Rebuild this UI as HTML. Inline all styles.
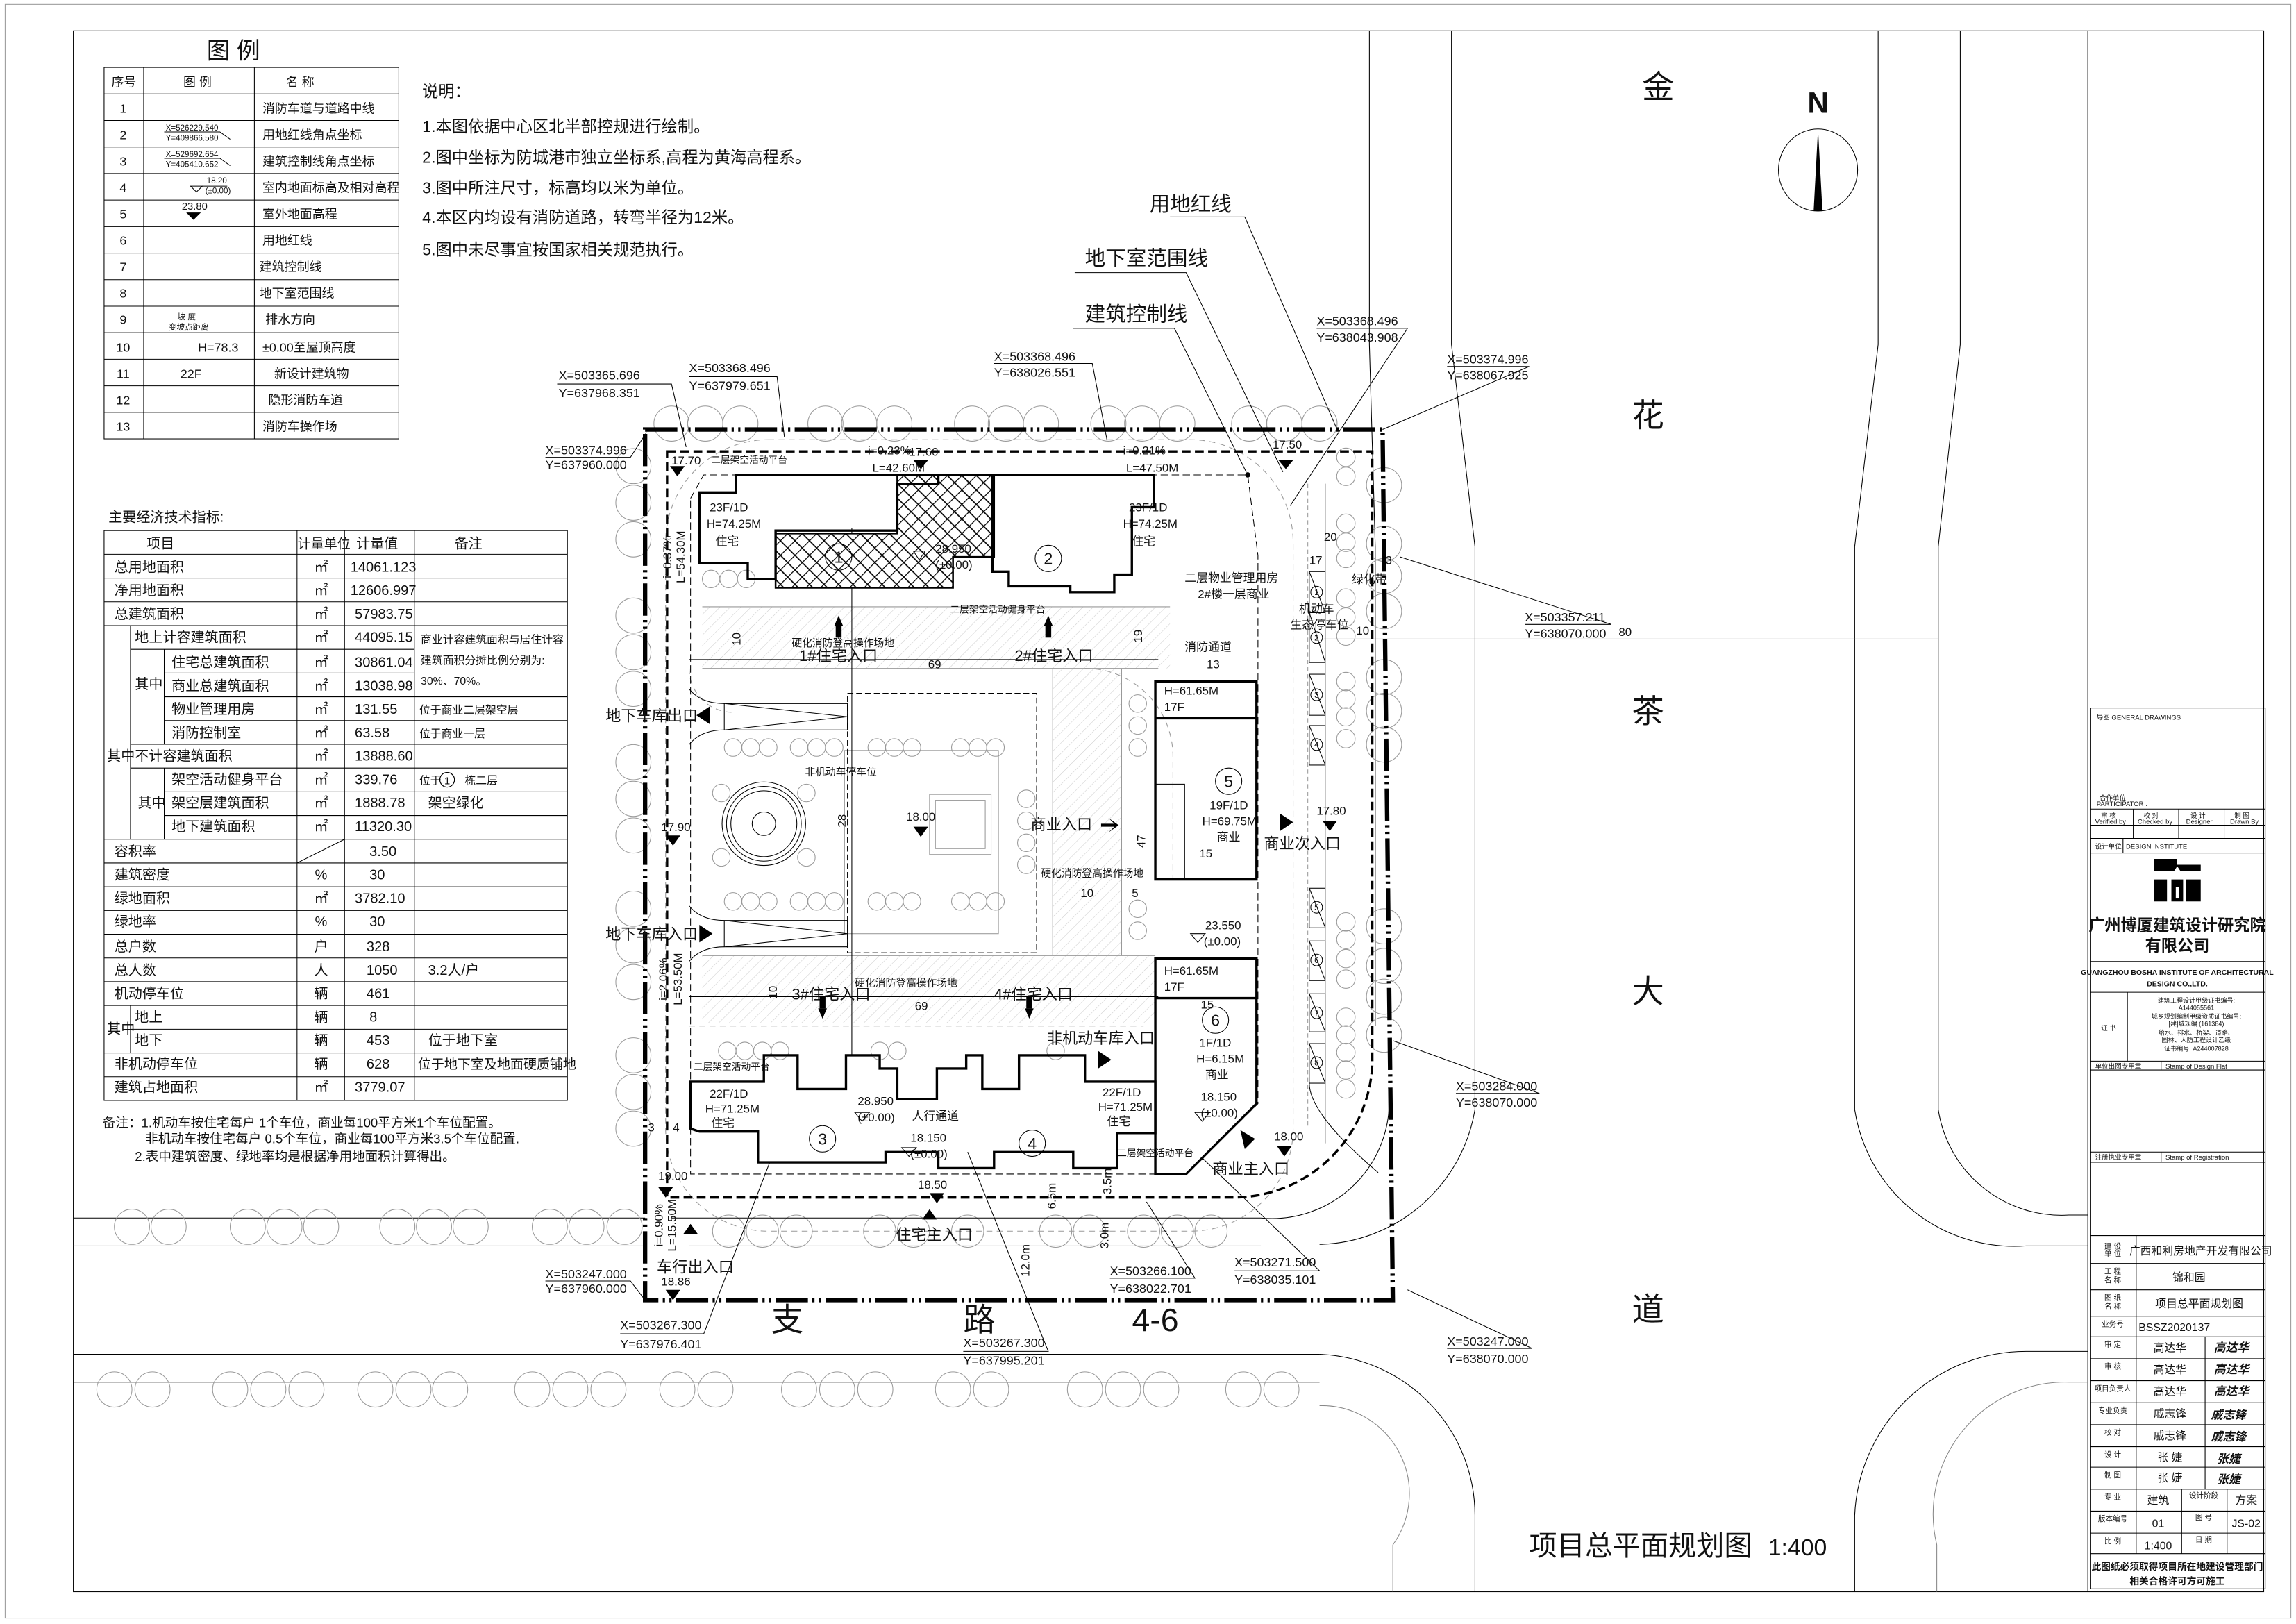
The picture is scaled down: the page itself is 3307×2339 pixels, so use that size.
<!DOCTYPE html>
<html><head><meta charset="utf-8"><style>
html,body{margin:0;padding:0;background:#fff}
svg{display:block}
text{font-family:"Liberation Sans","Noto Sans CJK SC",sans-serif;fill:#111}
.t{stroke:#000;stroke-width:.5;fill:none}
.g{stroke:#999;stroke-width:.5;fill:none}
.m{stroke:#000;stroke-width:1;fill:none}
.k{stroke:#000;stroke-width:1.6;fill:none}
.tr{stroke:#999;stroke-width:.5;fill:none}
</style></head><body>
<svg width="3307" height="2339" viewBox="0 0 1566 1108" preserveAspectRatio="none" xmlns="http://www.w3.org/2000/svg">
<defs>
<pattern id="h" width="5" height="5" patternUnits="userSpaceOnUse" patternTransform="rotate(45)"><line x1="0" y1="0" x2="0" y2="5" stroke="#ccc" stroke-width=".5"/></pattern>
<pattern id="hb" width="7" height="7" patternUnits="userSpaceOnUse" patternTransform="rotate(45)"><rect width="7" height="7" fill="#fff"/><line x1="0" y1="0" x2="0" y2="7" stroke="#000" stroke-width="1.2"/><line x1="0" y1="3.5" x2="7" y2="3.5" stroke="#000" stroke-width=".8"/></pattern>
</defs>
<rect x="0" y="0" width="1566" height="1108" fill="#fff"/>
<!-- page and frame -->
<rect x="3.5" y="3" width="1559" height="1101" class="g"/>
<rect x="50" y="21" width="1494" height="1065" class="t" stroke-width=".8"/>
<line x1="1424" y1="21" x2="1424" y2="1086" class="t"/>

<!-- ROADS -->
<g class="t">
<path d="M934 21 V235 L938 373 V700"/>
<path d="M990 21 V235 L1006 373 V757 A110 110 0 0 1 900 849"/>
<path d="M1281 21 V235 L1265 373 V757 A110 110 0 0 0 1382 850 H1424"/>
<path d="M1337 21 V235 L1322 373 V757 A85 85 0 0 0 1411 829 H1424"/>
<path d="M900 924 A110 110 0 0 1 1006 1034 V1086"/>
<path d="M1424 922 H1382 A117 117 0 0 0 1265 1034 V1086"/>
<path d="M1424 943 H1411 A90 90 0 0 0 1321 1054 V1086" stroke="#888"/>
<path d="M900 959 A60 60 0 0 1 950 1054 V1086" stroke="#888"/>
<path d="M50 831 H440"/>
<path d="M50 850 H440" stroke="#999"/>
<path d="M50 924 H900"/>
<path d="M50 943 H900"/>
<path d="M903 436 H1322" stroke="#888"/>
</g>
<!-- trees outside -->
<g class="tr">
<circle cx="90" cy="837" r="12"/><circle cx="115" cy="837" r="12"/><circle cx="169" cy="837" r="12"/><circle cx="194" cy="837" r="12"/><circle cx="219" cy="837" r="12"/><circle cx="271" cy="837" r="12"/><circle cx="296" cy="837" r="12"/><circle cx="321" cy="837" r="12"/><circle cx="375" cy="837" r="12"/><circle cx="400" cy="837" r="12"/><circle cx="426" cy="837" r="12"/>
<circle cx="78" cy="948" r="12"/><circle cx="104" cy="948" r="12"/><circle cx="157" cy="948" r="12"/><circle cx="183" cy="948" r="12"/><circle cx="209" cy="948" r="12"/><circle cx="256" cy="948" r="12"/><circle cx="282" cy="948" r="12"/><circle cx="307" cy="948" r="12"/><circle cx="363" cy="948" r="12"/><circle cx="389" cy="948" r="12"/><circle cx="415" cy="948" r="12"/><circle cx="462" cy="948" r="12"/><circle cx="488" cy="948" r="12"/><circle cx="545" cy="948" r="12"/><circle cx="571" cy="948" r="12"/><circle cx="597" cy="948" r="12"/><circle cx="650" cy="948" r="12"/><circle cx="676" cy="948" r="12"/><circle cx="740" cy="948" r="12"/><circle cx="766" cy="948" r="12"/><circle cx="792" cy="948" r="12"/><circle cx="848" cy="948" r="12"/><circle cx="874" cy="948" r="12"/>
<circle cx="458" cy="289" r="12"/><circle cx="481" cy="289" r="12"/><circle cx="505" cy="289" r="12"/><circle cx="563" cy="289" r="12"/><circle cx="586" cy="289" r="12"/><circle cx="610" cy="289" r="12"/><circle cx="663" cy="289" r="12"/><circle cx="686" cy="289" r="12"/><circle cx="710" cy="289" r="12"/><circle cx="756" cy="289" r="12"/><circle cx="779" cy="289" r="12"/><circle cx="803" cy="289" r="12"/><circle cx="852" cy="289" r="12"/><circle cx="876" cy="289" r="12"/><circle cx="900" cy="289" r="12"/>
<circle cx="432" cy="318" r="12"/><circle cx="432" cy="343" r="12"/><circle cx="432" cy="368" r="12"/><circle cx="432" cy="420" r="12"/><circle cx="432" cy="445" r="12"/><circle cx="432" cy="470" r="12"/><circle cx="432" cy="520" r="12"/><circle cx="432" cy="545" r="12"/><circle cx="432" cy="570" r="12"/><circle cx="432" cy="620" r="12"/><circle cx="432" cy="645" r="12"/><circle cx="432" cy="670" r="12"/><circle cx="432" cy="720" r="12"/><circle cx="432" cy="745" r="12"/><circle cx="432" cy="770" r="12"/>
<circle cx="944" cy="331" r="12"/><circle cx="944" cy="371" r="12"/><circle cx="944" cy="393" r="12"/><circle cx="944" cy="417" r="12"/><circle cx="944" cy="462" r="12"/><circle cx="944" cy="485" r="12"/><circle cx="944" cy="508" r="12"/><circle cx="944" cy="632" r="12"/><circle cx="944" cy="659" r="12"/><circle cx="944" cy="680" r="12"/><circle cx="944" cy="706" r="12"/>
<circle cx="918" cy="312" r="6.3"/><circle cx="918" cy="325" r="6.3"/><circle cx="918" cy="357" r="6.3"/><circle cx="918" cy="370" r="6.3"/><circle cx="918" cy="381" r="6.3"/><circle cx="918" cy="408" r="6.3"/><circle cx="918" cy="421" r="6.3"/><circle cx="918" cy="434" r="6.3"/><circle cx="918" cy="465" r="6.3"/><circle cx="918" cy="477" r="6.3"/><circle cx="918" cy="489" r="6.3"/><circle cx="918" cy="504" r="6.3"/><circle cx="918" cy="629" r="6.3"/><circle cx="918" cy="641" r="6.3"/><circle cx="918" cy="654" r="6.3"/><circle cx="918" cy="668" r="6.3"/><circle cx="918" cy="694" r="6.3"/><circle cx="918" cy="706" r="6.3"/><circle cx="918" cy="718" r="6.3"/><circle cx="918" cy="730" r="6.3"/><circle cx="918" cy="743" r="6.3"/>
<circle cx="497" cy="840" r="11"/><circle cx="520" cy="840" r="11"/><circle cx="543" cy="840" r="11"/><circle cx="600" cy="840" r="11"/><circle cx="623" cy="840" r="11"/><circle cx="660" cy="840" r="11"/><circle cx="720" cy="840" r="11"/><circle cx="743" cy="840" r="11"/><circle cx="780" cy="840" r="11"/><circle cx="803" cy="840" r="11"/><circle cx="826" cy="840" r="11"/>
</g>
<path d="M458 831 H860 A80 80 0 0 0 947 742" class="t"/>
<path d="M470 850 H860" class="g"/>

<!-- SITE INTERIOR -->
<!-- hatched fire zones -->
<rect x="479" y="414" width="319" height="42" fill="url(#h)"/>
<rect x="718" y="456" width="47" height="196" fill="url(#h)"/>
<rect x="479" y="652" width="309" height="46" fill="url(#h)"/>
<g class="g" stroke-dasharray="4 3">
<rect x="454" y="300" width="428" height="540" rx="70"/>
<path d="M470 456 A30 30 0 0 0 500 486"/>
<path d="M740 456 A60 60 0 0 1 800 516 V600"/>
<path d="M470 700 H780"/>
</g>
<g class="g">
<line x1="479" y1="414" x2="798" y2="414"/><line x1="479" y1="456" x2="790" y2="456"/>
<line x1="479" y1="652" x2="788" y2="652"/><line x1="479" y1="698" x2="788" y2="698"/>
<line x1="718" y1="456" x2="718" y2="652"/><line x1="765" y1="456" x2="765" y2="652"/>
<rect x="576" y="512" width="105" height="125"/>
</g>
<line x1="470" y1="450" x2="790" y2="450" class="t"/>
<line x1="470" y1="680" x2="790" y2="680" class="t"/>
<line x1="581" y1="360" x2="581" y2="720" class="t"/>
<!-- garden -->
<rect x="578" y="473" width="129" height="177" class="t" stroke-dasharray="4 2"/>
<circle cx="521" cy="562" r="28.5" class="t"/><circle cx="521" cy="562" r="25.5" class="t"/><circle cx="521" cy="562" r="22.5" class="t"/><circle cx="521" cy="562" r="8" class="t"/>
<rect x="634" y="542" width="42" height="41" class="g"/><rect x="638" y="546" width="34" height="33" class="g"/>
<!-- ramps -->
<g class="t">
<path d="M494 480 H578 V498 H494 Z M494 480 L578 489 L494 498"/>
<path d="M494 628 H578 V646 H494 Z M494 628 L578 637 L494 646"/>
<path d="M470 470 Q478 480 494 480 M470 508 Q478 498 494 498"/>
<path d="M470 618 Q478 628 494 628 M470 656 Q478 646 494 646"/>
</g>
<g class="tr">
<circle cx="500" cy="510" r="6"/><circle cx="512" cy="510" r="6"/><circle cx="524" cy="510" r="6"/><circle cx="545" cy="510" r="6"/><circle cx="557" cy="510" r="6"/><circle cx="569" cy="510" r="6"/><circle cx="598" cy="510" r="6"/><circle cx="610" cy="510" r="6"/><circle cx="622" cy="510" r="6"/><circle cx="655" cy="510" r="6"/><circle cx="667" cy="510" r="6"/><circle cx="679" cy="510" r="6"/>
<circle cx="500" cy="615" r="6"/><circle cx="512" cy="615" r="6"/><circle cx="524" cy="615" r="6"/><circle cx="545" cy="615" r="6"/><circle cx="557" cy="615" r="6"/><circle cx="569" cy="615" r="6"/><circle cx="598" cy="615" r="6"/><circle cx="610" cy="615" r="6"/><circle cx="622" cy="615" r="6"/><circle cx="655" cy="615" r="6"/><circle cx="667" cy="615" r="6"/><circle cx="679" cy="615" r="6"/>
<circle cx="492" cy="541" r="6"/><circle cx="492" cy="585" r="6"/><circle cx="550" cy="541" r="6"/><circle cx="550" cy="585" r="6"/><circle cx="700" cy="560" r="6"/><circle cx="700" cy="575" r="6"/><circle cx="700" cy="590" r="6"/><circle cx="700" cy="545" r="6"/>
<circle cx="776" cy="480" r="6"/><circle cx="776" cy="495" r="6"/><circle cx="776" cy="510" r="6"/><circle cx="776" cy="620" r="6"/><circle cx="776" cy="635" r="6"/>
<circle cx="485" cy="395" r="6"/><circle cx="497" cy="395" r="6"/><circle cx="509" cy="395" r="6"/><circle cx="496" cy="717" r="6"/><circle cx="508" cy="717" r="6"/><circle cx="520" cy="717" r="6"/><circle cx="532" cy="717" r="6"/><circle cx="600" cy="717" r="6"/><circle cx="612" cy="717" r="6"/><circle cx="720" cy="717" r="6"/>
</g>
<!-- parking cells -->
<g class="t">
<rect x="893" y="390" width="11" height="28"/><line x1="893" y1="390" x2="904" y2="418"/>
<rect x="893" y="418" width="11" height="34"/><line x1="893" y1="418" x2="904" y2="452"/>
<rect x="893" y="460" width="11" height="28"/><line x1="893" y1="460" x2="904" y2="488"/>
<rect x="893" y="495" width="11" height="27"/><line x1="893" y1="495" x2="904" y2="522"/>
<rect x="893" y="606" width="11" height="27"/><line x1="893" y1="606" x2="904" y2="633"/>
<rect x="893" y="642" width="11" height="27"/><line x1="893" y1="642" x2="904" y2="669"/>
<rect x="893" y="678" width="11" height="26"/><line x1="893" y1="678" x2="904" y2="704"/>
<rect x="893" y="712" width="11" height="27"/><line x1="893" y1="712" x2="904" y2="739"/>
<line x1="904" y1="330" x2="904" y2="780" stroke="#999"/>
<line x1="892" y1="330" x2="892" y2="770" stroke="#999" stroke-dasharray="3 2"/>
<path d="M893 739 Q893 760 940 800"/>
</g>
<g font-size="5.5" text-anchor="middle">
<circle cx="898" cy="404" r="4" class="t"/><text x="898" y="406">1</text>
<circle cx="898" cy="435" r="4" class="t"/><text x="898" y="437">2</text>
<circle cx="898" cy="474" r="4" class="t"/><text x="898" y="476">3</text>
<circle cx="898" cy="508" r="4" class="t"/><text x="898" y="510">4</text>
<circle cx="898" cy="619" r="4" class="t"/><text x="898" y="621">5</text>
<circle cx="898" cy="655" r="4" class="t"/><text x="898" y="657">6</text>
<circle cx="898" cy="691" r="4" class="t"/><text x="898" y="693">7</text>
<circle cx="898" cy="725" r="4" class="t"/><text x="898" y="727">8</text>
</g>

<!-- BUILDINGS -->
<polygon points="529,364 612,364 612,324 678,324 678,380 650,380 650,401 529,401" fill="url(#hb)" stroke="#000" stroke-width="1.2"/>
<g class="k">
<polygon points="477,336 502,336 502,324 640,324 640,330 612,330 612,362 529,362 529,395 510,395 510,384 477,384"/>
<polygon points="677,324 787,324 787,346 772,346 772,392 760,392 760,404 730,404 730,400 688,400 688,390 677,390"/>
<polygon points="471,738 521,738 521,720 544,720 544,743 577,743 577,720 600,720 600,729 612,729 612,750 639,750 639,729 659,729 659,720 670,720 670,743 695,743 695,720 740,720 740,738 788,738 788,773 762,773 762,797 732,797 732,786 678,786 678,797 640,797 640,786 604,786 604,793 517,793 517,772 477,772 471,770"/>
<rect x="788" y="465" width="69" height="135"/>
<line x1="788" y1="490" x2="857" y2="490"/>
<polygon points="788,654 857,654 857,753 809,801 788,801 788,773"/>
<line x1="788" y1="681" x2="857" y2="681"/>
</g>
<rect x="788" y="535" width="20" height="65" class="t"/>
<!-- building control line -->
<path d="M471 340 L480 324 H851 L858 379 V753 L809 801 H471 Z" class="t" stroke-width="1.1" stroke-dasharray="5 2.5"/>
<circle cx="851" cy="324" r="1.8"/>
<!-- basement line -->
<path d="M455 308 H936 V726 A95 95 0 0 1 841 817 H455 Z" fill="none" stroke="#000" stroke-width="1.6" stroke-dasharray="6 3"/>
<!-- site boundary -->
<path d="M440 293 H943 L950 887 H440 Z" fill="none" stroke="#000" stroke-width="3" stroke-dasharray="22 3 1.5 3 1.5 3"/>

<!-- callouts -->
<g class="t">
<path d="M798 148 H849 L912 293"/>
<path d="M733 186 H809 L875 322"/>
<path d="M732 224 H801 L850 322"/>
<path d="M380 262 H458 L468 305"/>
<path d="M470 257 H530 L535 298"/>
<path d="M372 312 H430 L441 295"/>
<path d="M678 248 H745 L755 300"/>
<path d="M898 224 H960 L880 345"/>
<path d="M987 250 H1043 L943 293"/>
<path d="M1040 426 H1099 L955 380"/>
<path d="M993 746 H1050 L950 710"/>
<path d="M372 874 H430 L440 887"/>
<path d="M423 910 H480 L525 793"/>
<path d="M657 922 H715 L660 786"/>
<path d="M757 872 H815 L782 820"/>
<path d="M842 867 H900 L820 790"/>
<path d="M987 920 H1045 L960 880"/>
</g>
<g font-size="8.5">
<text x="381" y="259">X=503365.696</text><text x="381" y="271">Y=637968.351</text>
<text x="470" y="254">X=503368.496</text><text x="470" y="266">Y=637979.651</text>
<text x="372" y="310">X=503374.996</text><text x="372" y="320">Y=637960.000</text>
<text x="678" y="246">X=503368.496</text><text x="678" y="257">Y=638026.551</text>
<text x="898" y="222">X=503368.496</text><text x="898" y="233">Y=638043.908</text>
<text x="987" y="248">X=503374.996</text><text x="987" y="259">Y=638067.925</text>
<text x="1040" y="424">X=503357.211</text><text x="1040" y="435">Y=638070.000</text>
<text x="993" y="744">X=503284.000</text><text x="993" y="755">Y=638070.000</text>
<text x="372" y="872">X=503247.000</text><text x="372" y="882">Y=637960.000</text>
<text x="423" y="907">X=503267.300</text><text x="423" y="920">Y=637976.401</text>
<text x="657" y="919">X=503267.300</text><text x="657" y="931">Y=637995.201</text>
<text x="757" y="870">X=503266.100</text><text x="757" y="882">Y=638022.701</text>
<text x="842" y="864">X=503271.500</text><text x="842" y="876">Y=638035.101</text>
<text x="987" y="918">X=503247.000</text><text x="987" y="930">Y=638070.000</text>
</g>
<g font-size="14">
<text x="784" y="144">用地红线</text>
<text x="740" y="181">地下室范围线</text>
<text x="740" y="219">建筑控制线</text>
</g>

<!-- plan labels -->
<g font-size="8">
<text x="485" y="316" font-size="6.5">二层架空活动平台</text>
<text x="592" y="310">i=0.23%</text><text x="595" y="322">L=42.60M</text>
<text x="766" y="310">i=0.21%</text><text x="768" y="322">L=47.50M</text>
<text x="620" y="311">17.60</text>
<text x="868" y="306">17.50</text>
<text x="458" y="317">17.70</text>
<text x="484" y="349">23F/1D</text><text x="482" y="360">H=74.25M</text><text x="488" y="372">住宅</text>
<text x="770" y="349">23F/1D</text><text x="766" y="360">H=74.25M</text><text x="772" y="372">住宅</text>
<text x="638" y="377">28.950</text><text x="638" y="388">(±0.00)</text>
<text x="808" y="397">二层物业管理用房</text>
<text x="817" y="408">2#楼一层商业</text>
<text x="648" y="418" font-size="6.5">二层架空活动健身平台</text>
<text x="540" y="441" font-size="7">硬化消防登高操作场地</text>
<text x="808" y="444">消防通道</text><text x="823" y="456">13</text>
<text x="633" y="456">69</text>
<text x="903" y="369">20</text><text x="893" y="385">17</text><text x="945" y="385">3</text><text x="922" y="398">绿化带</text>
<text x="886" y="418">机动车</text><text x="880" y="429">生态停车位</text>
<text x="925" y="433">10</text><text x="1104" y="434">80</text>
<text x="794" y="474">H=61.65M</text><text x="794" y="485">17F</text>
<text x="549" y="529" font-size="7">非机动车停车位</text>
<text x="618" y="560">18.00</text>
<text x="825" y="552">19F/1D</text><text x="820" y="563">H=69.75M</text><text x="830" y="574">商业</text>
<text x="818" y="585">15</text>
<text x="898" y="556">17.80</text>
<text x="451" y="567">17.90</text>
<text x="710" y="598" font-size="7">硬化消防登高操作场地</text>
<text x="737" y="612">10</text><text x="772" y="612">5</text>
<text x="822" y="634">23.550</text><text x="821" y="645">(±0.00)</text>
<text x="794" y="665">H=61.65M</text><text x="794" y="676">17F</text>
<text x="583" y="673" font-size="7">硬化消防登高操作场地</text>
<text x="624" y="689">69</text><text x="819" y="688">15</text>
<text x="818" y="714">1F/1D</text><text x="816" y="725">H=6.15M</text><text x="822" y="736">商业</text>
<text x="473" y="730" font-size="6.5">二层架空活动平台</text>
<text x="484" y="749">22F/1D</text><text x="481" y="759">H=71.25M</text><text x="485" y="769">住宅</text>
<text x="752" y="748">22F/1D</text><text x="749" y="758">H=71.25M</text><text x="755" y="768">住宅</text>
<text x="585" y="754">28.950</text><text x="585" y="765">(±0.00)</text>
<text x="621" y="779">18.150</text><text x="621" y="790">(±0.00)</text>
<text x="819" y="751">18.150</text><text x="819" y="762">(±0.00)</text>
<text x="762" y="789" font-size="6.5">二层架空活动平台</text>
<text x="869" y="778">18.00</text>
<text x="626" y="811">18.50</text>
<text x="449" y="805">19.00</text>
<text x="451" y="877">18.86</text>
<text x="442" y="772">3</text><text x="459" y="772">4</text>
</g>
<g font-size="8" text-anchor="middle">
<text transform="translate(505,436) rotate(-90)">10</text>
<text transform="translate(779,434) rotate(-90)">19</text>
<text transform="translate(577,560) rotate(-90)">28</text>
<text transform="translate(781,574) rotate(-90)">47</text>
<text transform="translate(530,677) rotate(-90)">10</text>
<text transform="translate(720,816) rotate(-90)">6.5m</text>
<text transform="translate(758,806) rotate(-90)">3.5m</text>
<text transform="translate(756,843) rotate(-90)">3.0m</text>
<text transform="translate(702,860) rotate(-90)">12.0m</text>
<text transform="translate(458,380) rotate(-90)">i=0.37%</text>
<text transform="translate(467,380) rotate(-90)">L=54.30M</text>
<text transform="translate(455,668) rotate(-90)">i=2.06%</text>
<text transform="translate(465,668) rotate(-90)">L=53.50M</text>
<text transform="translate(452,836) rotate(-90)">i=0.90%</text>
<text transform="translate(461,836) rotate(-90)">L=15.50M</text>
</g>
<g font-size="10.5">
<text x="545" y="451">1#住宅入口</text>
<text x="692" y="451">2#住宅入口</text>
<text x="413" y="492">地下车库出口</text>
<text x="703" y="566">商业入口</text>
<text x="862" y="579">商业次入口</text>
<text x="413" y="641">地下车库入口</text>
<text x="540" y="682">3#住宅入口</text>
<text x="678" y="682">4#住宅入口</text>
<text x="714" y="712">非机动车库入口</text>
<text x="622" y="764" font-size="8">人行通道</text>
<text x="827" y="801">商业主入口</text>
<text x="611" y="846">住宅主入口</text>
<text x="448" y="868">车行出入口</text>
</g>
<!-- circles numbers -->
<g class="t"><circle cx="572" cy="380" r="9"/><circle cx="715" cy="381" r="9"/><circle cx="838" cy="533" r="9"/><circle cx="829" cy="696" r="9"/><circle cx="561" cy="777" r="9"/><circle cx="704" cy="780" r="9"/></g>
<g font-size="11" text-anchor="middle"><text x="572" y="384">1</text><text x="715" y="385">2</text><text x="838" y="537">5</text><text x="829" y="700">6</text><text x="561" y="781">3</text><text x="704" y="784">4</text></g>
<!-- arrows / triangles -->
<g fill="#000">
<polygon points="623,314 633,314 628,320"/><polygon points="872,314 882,314 877,320"/>
<polygon points="457,318 467,318 462,325"/><polygon points="623,564 633,564 628,571"/>
<polygon points="454,570 464,570 459,577"/><polygon points="902,560 912,560 907,567"/>
<polygon points="871,782 881,782 876,789"/><polygon points="634,814 644,814 639,821"/>
<polygon points="629,832 639,832 634,825"/><polygon points="449,810 459,810 454,817"/>
<polygon points="454,880 464,880 459,887"/><polygon points="466,842 476,842 471,835"/>
<polygon points="475,488 484,482 484,494"/><polygon points="486,637 477,631 477,643"/>
<polygon points="882,561 873,555 873,567"/><polygon points="758,723 749,717 749,729"/>
<polygon points="846,771 856,777 849,784"/>
<polygon points="569,427 575,427 572,420"/><rect x="570" y="427" width="4" height="8"/>
<polygon points="712,427 718,427 715,420"/><rect x="713" y="427" width="4" height="8"/>
<polygon points="558,688 564,688 561,695"/><rect x="559" y="680" width="4" height="8"/>
<polygon points="699,688 705,688 702,695"/><rect x="700" y="680" width="4" height="8"/>
<polygon points="751,562 760,562 756,558 763,563 756,568 760,564 751,564"/>
</g>
<g class="t"><polygon points="623,376 631,376 627,382"/><polygon points="812,637 822,637 817,643"/><polygon points="583,759 593,759 588,765"/><polygon points="615,783 625,783 620,789"/><polygon points="815,759 825,759 820,765"/></g>

<!-- road names -->
<g font-size="22" text-anchor="middle">
<text x="1131" y="67">金</text><text x="1124" y="291">花</text><text x="1124" y="493">茶</text><text x="1124" y="684">大</text><text x="1124" y="901">道</text>
<text x="537" y="908">支</text><text x="668" y="908">路</text><text x="788" y="908">4-6</text>
</g>
<!-- north arrow -->
<text x="1240" y="77" font-size="20" font-weight="bold" text-anchor="middle">N</text>
<ellipse cx="1240" cy="116" rx="27" ry="28" class="t"/>
<polygon points="1240,88 1243,144 1237,144" fill="#000"/>
<!-- title -->
<text x="1043" y="1061" font-size="19">项目总平面规划图</text>
<text x="1206" y="1061" font-size="16">1:400</text>

<!-- LEGEND -->
<text x="141" y="40" font-size="16">图 例</text>
<g class="t" stroke-width=".7">
<rect x="71" y="46" width="201" height="253.4"/>
<line x1="98" y1="46" x2="98" y2="299.4"/><line x1="173.5" y1="46" x2="173.5" y2="299.4"/>
<line x1="71" y1="64.1" x2="272" y2="64.1"/><line x1="71" y1="82.2" x2="272" y2="82.2"/><line x1="71" y1="100.3" x2="272" y2="100.3"/><line x1="71" y1="118.4" x2="272" y2="118.4"/><line x1="71" y1="136.5" x2="272" y2="136.5"/><line x1="71" y1="154.6" x2="272" y2="154.6"/><line x1="71" y1="172.7" x2="272" y2="172.7"/><line x1="71" y1="190.8" x2="272" y2="190.8"/><line x1="71" y1="208.9" x2="272" y2="208.9"/><line x1="71" y1="227" x2="272" y2="227"/><line x1="71" y1="245.1" x2="272" y2="245.1"/><line x1="71" y1="263.2" x2="272" y2="263.2"/><line x1="71" y1="281.3" x2="272" y2="281.3"/>
</g>
<g font-size="8.5">
<text x="76" y="59">序号</text><text x="125" y="59">图  例</text><text x="195" y="59">名  称</text>
<g text-anchor="middle"><text x="84" y="77">1</text><text x="84" y="95">2</text><text x="84" y="113">3</text><text x="84" y="131">4</text><text x="84" y="149">5</text><text x="84" y="167">6</text><text x="84" y="185">7</text><text x="84" y="203">8</text><text x="84" y="221">9</text><text x="84" y="240">10</text><text x="84" y="258">11</text><text x="84" y="276">12</text><text x="84" y="294">13</text></g>
<text x="179" y="77">消防车道与道路中线</text>
<text x="179" y="95">用地红线角点坐标</text>
<text x="179" y="113">建筑控制线角点坐标</text>
<text x="179" y="131">室内地面标高及相对高程</text>
<text x="179" y="149">室外地面高程</text>
<text x="179" y="167">用地红线</text>
<text x="177" y="185">建筑控制线</text>
<text x="177" y="203">地下室范围线</text>
<text x="181" y="221">排水方向</text>
<text x="179" y="240">±0.00至屋顶高度</text>
<text x="187" y="258">新设计建筑物</text>
<text x="183" y="276">隐形消防车道</text>
<text x="179" y="294">消防车操作场</text>
<text x="135" y="240">H=78.3</text>
<text x="123" y="258">22F</text>
</g>
<g font-size="5.5">
<text x="113" y="89">X=526229.540</text><text x="113" y="96">Y=409866.580</text>
<text x="113" y="107">X=529692.654</text><text x="113" y="114">Y=405410.652</text>
<text x="121" y="218">坡 度</text><text x="115" y="225">变坡点距离</text>
<text x="141" y="125">18.20</text><text x="140" y="132">(±0.00)</text>
<text x="124" y="143" font-size="7">23.80</text>
</g>
<g class="t"><path d="M112 90 H150 L157 95"/><path d="M112 108 H150 L157 113"/><polygon points="130,127 138,127 134,131"/><line x1="138" y1="127" x2="155" y2="127"/></g>
<polygon points="127,145 137,145 132,150" fill="#000"/>

<!-- NOTES -->
<g font-size="11">
<text x="288" y="66">说明：</text>
<text x="288" y="90">1.本图依据中心区北半部控规进行绘制。</text>
<text x="288" y="111">2.图中坐标为防城港市独立坐标系,高程为黄海高程系。</text>
<text x="288" y="132">3.图中所注尺寸，标高均以米为单位。</text>
<text x="288" y="152">4.本区内均设有消防道路，转弯半径为12米。</text>
<text x="288" y="174">5.图中未尽事宜按国家相关规范执行。</text>
</g>

<!-- ECON TABLE -->
<text x="74" y="356" font-size="9.5">主要经济技术指标:</text>
<g class="t" stroke-width=".7">
<rect x="71" y="362" width="316" height="388.8"/>
<line x1="202.6" y1="362" x2="202.6" y2="750.8"/><line x1="235" y1="362" x2="235" y2="750.8"/><line x1="282.6" y1="362" x2="282.6" y2="750.8"/>
<line x1="71" y1="378.2" x2="387" y2="378.2"/><line x1="71" y1="394.4" x2="387" y2="394.4"/><line x1="71" y1="410.6" x2="387" y2="410.6"/><line x1="71" y1="426.8" x2="387" y2="426.8"/>
<line x1="89" y1="443" x2="282.6" y2="443"/><line x1="112" y1="459.2" x2="282.6" y2="459.2"/><line x1="112" y1="475.4" x2="387" y2="475.4"/><line x1="112" y1="491.6" x2="387" y2="491.6"/><line x1="89" y1="507.8" x2="387" y2="507.8"/><line x1="89" y1="524" x2="387" y2="524"/><line x1="112" y1="540.2" x2="387" y2="540.2"/><line x1="112" y1="556.4" x2="387" y2="556.4"/>
<line x1="71" y1="572.6" x2="387" y2="572.6"/><line x1="71" y1="588.8" x2="387" y2="588.8"/><line x1="71" y1="605" x2="387" y2="605"/><line x1="71" y1="621.2" x2="387" y2="621.2"/><line x1="71" y1="637.4" x2="387" y2="637.4"/><line x1="71" y1="653.6" x2="387" y2="653.6"/><line x1="71" y1="669.8" x2="387" y2="669.8"/><line x1="71" y1="686" x2="387" y2="686"/><line x1="89" y1="702.2" x2="387" y2="702.2"/><line x1="71" y1="718.4" x2="387" y2="718.4"/><line x1="71" y1="734.6" x2="387" y2="734.6"/>
<line x1="89" y1="426.8" x2="89" y2="572.6"/><line x1="112" y1="443" x2="112" y2="507.8"/><line x1="112" y1="524" x2="112" y2="572.6"/><line x1="89" y1="686" x2="89" y2="718.4"/>
<line x1="202.6" y1="588.8" x2="235" y2="572.6"/>
</g>
<g font-size="9.5">
<text x="100" y="374">项目</text><text x="203" y="374" font-size="9">计量单位</text><text x="243" y="374">计量值</text><text x="310" y="374">备注</text>
<text x="78" y="390">总用地面积</text><text x="78" y="406">净用地面积</text><text x="78" y="422">总建筑面积</text>
<text x="92" y="438">地上计容建筑面积</text>
<text x="117" y="455">住宅总建筑面积</text><text x="117" y="471">商业总建筑面积</text><text x="117" y="487">物业管理用房</text><text x="117" y="503">消防控制室</text>
<text x="92" y="519">不计容建筑面积</text><text x="73" y="519">其中</text>
<text x="117" y="535">架空活动健身平台</text><text x="117" y="551">架空层建筑面积</text><text x="117" y="567">地下建筑面积</text>
<text x="92" y="470">其中</text><text x="94" y="551">其中</text>
<text x="78" y="584">容积率</text><text x="78" y="600">建筑密度</text><text x="78" y="616">绿地面积</text><text x="78" y="632">绿地率</text><text x="78" y="649">总户数</text><text x="78" y="665">总人数</text><text x="78" y="681">机动停车位</text>
<text x="92" y="697">地上</text><text x="92" y="713">地下</text><text x="73" y="705">其中</text>
<text x="78" y="729">非机动停车位</text><text x="78" y="745">建筑占地面积</text>
</g>
<g font-size="9.5" text-anchor="middle">
<text x="219" y="390">㎡</text><text x="219" y="406">㎡</text><text x="219" y="422">㎡</text><text x="219" y="438">㎡</text><text x="219" y="455">㎡</text><text x="219" y="471">㎡</text><text x="219" y="487">㎡</text><text x="219" y="503">㎡</text><text x="219" y="519">㎡</text><text x="219" y="535">㎡</text><text x="219" y="551">㎡</text><text x="219" y="567">㎡</text>
<text x="219" y="600">%</text><text x="219" y="616">㎡</text><text x="219" y="632">%</text><text x="219" y="649">户</text><text x="219" y="665">人</text><text x="219" y="681">辆</text><text x="219" y="697">辆</text><text x="219" y="713">辆</text><text x="219" y="729">辆</text><text x="219" y="745">㎡</text>
</g>
<g font-size="9.5">
<text x="239" y="390">14061.123</text><text x="239" y="406">12606.997</text><text x="242" y="422">57983.75</text><text x="242" y="438">44095.15</text><text x="242" y="455">30861.04</text><text x="242" y="471">13038.98</text><text x="242" y="487">131.55</text><text x="242" y="503">63.58</text><text x="242" y="519">13888.60</text><text x="242" y="535">339.76</text><text x="242" y="551">1888.78</text><text x="242" y="567">11320.30</text>
<text x="252" y="584">3.50</text><text x="252" y="600">30</text><text x="242" y="616">3782.10</text><text x="252" y="632">30</text><text x="250" y="649">328</text><text x="250" y="665">1050</text><text x="250" y="681">461</text><text x="252" y="697">8</text><text x="250" y="713">453</text><text x="250" y="729">628</text><text x="242" y="745">3779.07</text>
</g>
<g font-size="7.5">
<text x="287" y="439">商业计容建筑面积与居住计容</text><text x="287" y="453">建筑面积分摊比例分别为:</text><text x="287" y="467">30%、70%。</text>
<text x="286" y="487">位于商业二层架空层</text><text x="286" y="503">位于商业一层</text>
<text x="286" y="535">位于</text>
<text x="317" y="535">栋二层</text>
</g>
<g class="t"><circle cx="305" cy="532" r="5"/><circle cx="312" cy="532" r="0"/></g>
<g class="t"><circle cx="305" cy="532" r="5"/></g>
<g font-size="7" text-anchor="middle"><text x="305" y="535">1</text><text x="317" y="535"></text></g>
<g font-size="9.5">
<text x="292" y="551">架空绿化</text><text x="292" y="665">3.2人/户</text><text x="292" y="713">位于地下室</text><text x="285" y="729" font-size="9">位于地下室及地面硬质铺地</text>
</g>
<g font-size="8.8">
<text x="70" y="769">备注：1.机动车按住宅每户 1个车位，商业每100平方米1个车位配置。</text>
<text x="99" y="780">非机动车按住宅每户 0.5个车位，商业每100平方米3.5个车位配置.</text>
<text x="92" y="792">2.表中建筑密度、绿地率均是根据净用地面积计算得出。</text>
</g>

<!-- TITLE BLOCK -->
<g class="t" stroke-width=".7">
<rect x="1426" y="483" width="119" height="601"/>
<line x1="1426" y1="552" x2="1545" y2="552"/><line x1="1426" y1="563" x2="1545" y2="563"/><line x1="1426" y1="572" x2="1545" y2="572"/><line x1="1426" y1="582" x2="1545" y2="582"/>
<line x1="1455" y1="552" x2="1455" y2="572"/><line x1="1486" y1="552" x2="1486" y2="572"/><line x1="1517" y1="552" x2="1517" y2="572"/><line x1="1448" y1="572" x2="1448" y2="582"/>
<line x1="1426" y1="656" x2="1545" y2="656"/><line x1="1426" y1="677" x2="1545" y2="677"/><line x1="1451" y1="677" x2="1451" y2="724"/>
<line x1="1426" y1="724" x2="1545" y2="724"/><line x1="1426" y1="730" x2="1545" y2="730"/><line x1="1474" y1="724" x2="1474" y2="730"/>
<line x1="1426" y1="786" x2="1545" y2="786"/><line x1="1426" y1="793" x2="1545" y2="793"/><line x1="1474" y1="786" x2="1474" y2="793"/>
<line x1="1426" y1="843" x2="1545" y2="843"/><line x1="1426" y1="862" x2="1545" y2="862"/><line x1="1426" y1="880" x2="1545" y2="880"/><line x1="1426" y1="898" x2="1545" y2="898"/><line x1="1426" y1="912" x2="1545" y2="912"/><line x1="1426" y1="927" x2="1545" y2="927"/><line x1="1426" y1="942" x2="1545" y2="942"/><line x1="1426" y1="957" x2="1545" y2="957"/><line x1="1426" y1="972" x2="1545" y2="972"/><line x1="1426" y1="987" x2="1545" y2="987"/><line x1="1426" y1="1001" x2="1545" y2="1001"/><line x1="1426" y1="1016" x2="1545" y2="1016"/><line x1="1426" y1="1031" x2="1545" y2="1031"/><line x1="1426" y1="1046" x2="1545" y2="1046"/><line x1="1426" y1="1060" x2="1545" y2="1060"/>
<line x1="1457" y1="843" x2="1457" y2="1060"/><line x1="1504" y1="912" x2="1504" y2="1016"/><line x1="1488" y1="1016" x2="1488" y2="1060"/><line x1="1519" y1="1016" x2="1519" y2="1060"/>
</g>
<g font-size="4.5">
<text x="1430" y="491">导图  GENERAL DRAWINGS</text>
<text x="1432" y="546">合作单位</text><text x="1430" y="550">PARTICIPATOR :</text>
<text x="1433" y="558">审 核</text><text x="1462" y="558">校 对</text><text x="1494" y="558">设 计</text><text x="1524" y="558">制 图</text>
<text x="1429" y="562">Verified by</text><text x="1458" y="562">Checked by</text><text x="1491" y="562">Designer</text><text x="1521" y="562">Drawn By</text>
<text x="1429" y="579">设计单位</text><text x="1450" y="579">DESIGN INSTITUTE</text>
<text x="1433" y="703">证  书</text>
<text x="1429" y="729">单位出图专用章</text><text x="1477" y="729">Stamp of Design Flat</text>
<text x="1429" y="791">注册执业专用章</text><text x="1477" y="791">Stamp of Registration</text>
</g>
<g font-size="4.3" text-anchor="middle">
<text x="1498" y="684">建筑工程设计甲级证书编号:</text><text x="1498" y="689">A144055561</text><text x="1498" y="695">城乡规划编制甲级资质证书编号:</text><text x="1498" y="700">[建]城规编 (161384)</text><text x="1498" y="706">给水、排水、桥梁、道路、</text><text x="1498" y="711">园林、人防工程设计乙级</text><text x="1498" y="717">证书编号: A244007828</text>
</g>
<!-- logo -->
<polygon points="1469,586 1485,586 1485,590 1501,590 1501,594 1487,594 1485,591 1483,594 1469,594" fill="#000"/>
<rect x="1469" y="600" width="9" height="15" fill="#000"/><rect x="1481" y="600" width="8" height="15" fill="#000"/><rect x="1484" y="605" width="2" height="8" fill="#fff"/><rect x="1491" y="600" width="10" height="15" fill="#000"/>
<text x="1485" y="635" font-size="11" font-weight="bold" text-anchor="middle">广州博厦建筑设计研究院</text>
<text x="1485" y="649" font-size="11" font-weight="bold" text-anchor="middle">有限公司</text>
<text x="1485" y="665" font-size="5" font-weight="bold" text-anchor="middle">GUANGZHOU BOSHA INSTITUTE OF ARCHITECTURAL</text>
<text x="1485" y="673" font-size="5" font-weight="bold" text-anchor="middle">DESIGN  CO.,LTD.</text>
<g font-size="5" text-anchor="middle">
<text x="1441" y="852">建 设</text><text x="1441" y="857">单 位</text>
<text x="1441" y="869">工 程</text><text x="1441" y="875">名 称</text>
<text x="1441" y="887">图 纸</text><text x="1441" y="893">名 称</text>
<text x="1441" y="905">业务号</text>
<text x="1441" y="919">审 定</text><text x="1441" y="934">审 核</text><text x="1441" y="949">项目负责人</text><text x="1441" y="964">专业负责</text><text x="1441" y="979">校 对</text><text x="1441" y="994">设 计</text><text x="1441" y="1008">制 图</text><text x="1441" y="1023">专 业</text><text x="1441" y="1038">版本编号</text><text x="1441" y="1053">比 例</text>
<text x="1503" y="1022">设计阶段</text><text x="1503" y="1037">图 号</text><text x="1503" y="1052">日 期</text>
</g>
<g font-size="7.5" text-anchor="middle">
<text x="1501" y="856">广西和利房地产开发有限公司</text>
<text x="1493" y="874">锦和园</text>
<text x="1500" y="892">项目总平面规划图</text>
<text x="1483" y="908">BSSZ2020137</text>
<text x="1480" y="922">高达华</text><text x="1480" y="937">高达华</text><text x="1480" y="952">高达华</text><text x="1480" y="967">戚志锋</text><text x="1480" y="982">戚志锋</text><text x="1480" y="997">张  婕</text><text x="1480" y="1011">张  婕</text>
<text x="1472" y="1026">建筑</text><text x="1532" y="1026">方案</text>
<text x="1472" y="1042">01</text><text x="1532" y="1042">JS-02</text>
<text x="1472" y="1057">1:400</text>
</g>
<g font-size="8" font-style="italic" font-weight="bold">
<text x="1510" y="922">高达华</text><text x="1510" y="937">高达华</text><text x="1510" y="952">高达华</text><text x="1508" y="968">戚志锋</text><text x="1508" y="983">戚志锋</text><text x="1512" y="998">张婕</text><text x="1512" y="1012">张婕</text>
</g>
<text x="1485" y="1071" font-size="6.5" font-weight="bold" text-anchor="middle">此图纸必须取得项目所在地建设管理部门</text>
<text x="1485" y="1081" font-size="6.5" font-weight="bold" text-anchor="middle">相关合格许可方可施工</text>
</svg>
</body></html>
